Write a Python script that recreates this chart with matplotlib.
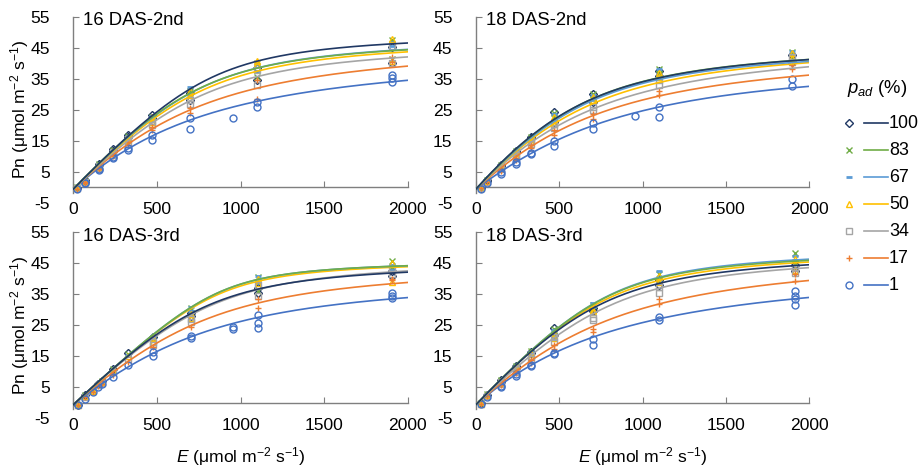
import numpy as np
import matplotlib
matplotlib.use("Agg")
import matplotlib.pyplot as plt

plt.rcParams['font.family'] = ['Liberation Sans', 'DejaVu Sans']
plt.rcParams['mathtext.fontset'] = 'custom'
plt.rcParams['mathtext.rm'] = 'Liberation Sans'
plt.rcParams['mathtext.it'] = 'Liberation Sans:italic'
plt.rcParams['axes.unicode_minus'] = False

# p_ad series (legend order)
pad = [100, 83, 67, 50, 34, 17, 1]
colors = ['#203864', '#70AD47', '#5B9BD5', '#FFC000', '#A5A5A5', '#ED7D31', '#4472C4']
markers = ['D', 'x', '_', '^', 's', '+', 'o']

titles = ['16 DAS-2nd', '18 DAS-2nd', '16 DAS-3rd', '18 DAS-3rd']

# E levels (umol m-2 s-1) per panel, and Pn replicates per series per level
e_tl = [25, 70, 153, 239, 325, 472, 700, 953, 1100, 1905]
pn_tl = [
    [[-0.3, -0.1], [1.8, 2.2], [7.6, 7.2], [12.3, 11.8], [16.8, 16.2], [23.2, 22.4], [30.5, 28.0], [], [38.5, 34.5], [45.2, 40.0]],
    [[-0.4, 0.0], [1.9, 1.6], [7.4, 6.9], [11.9, 11.4], [16.5, 15.8], [22.8, 21.8], [31.0, 29.5], [], [40.2, 35.4], [47.6, 41.5]],
    [[-0.2], [1.9, 1.7], [7.3, 6.8], [12.0, 11.2], [16.6, 15.5], [23.0, 21.5], [32.3, 29.0], [], [39.8, 37.5], [47.0, 45.5]],
    [[-0.3], [1.8], [7.0, 6.6], [11.7, 11.0], [16.0, 15.2], [22.5, 21.0], [31.0, 29.8], [], [40.6, 39.7], [47.9, 40.6]],
    [[-0.4], [1.6], [6.8, 6.3], [11.2, 10.5], [15.5, 14.6], [21.5, 20.0], [28.2, 27.0], [], [37.8, 33.0], [45.5, 40.0]],
    [[-0.5], [1.7, 1.5], [6.5, 6.0], [10.5, 10.0], [14.5, 13.5], [19.5, 18.3], [25.5, 24.0], [], [34.6, 28.5], [42.0, 40.5]],
    [[-0.6], [1.4, 1.2], [6.0, 5.6], [9.8, 9.3], [12.6, 12.0], [16.8, 15.2], [22.2, 18.8], [22.2], [27.6, 25.8], [36.2, 35.2, 34.0]],
]

e_tr = [28, 68, 148, 238, 328, 470, 700, 953, 1100, 1900]
pn_tr = [
    [[-0.3], [2.3, 2.0], [7.2, 6.8], [11.8, 11.3], [16.3, 15.8], [24.4, 21.0], [30.0, 27.5], [], [37.5, 36.0], [42.5, 40.5]],
    [[-0.2], [2.2], [7.1, 6.6], [11.6, 11.0], [16.2, 15.4], [24.0, 22.5], [30.2, 28.5], [], [38.2, 36.5], [43.5, 42.0]],
    [[-0.2], [2.1], [6.9, 6.4], [11.4, 10.6], [15.9, 15.0], [23.5, 21.5], [29.8, 28.0], [], [38.0, 36.0], [43.8, 42.5]],
    [[-0.3], [2.0], [6.8, 6.2], [11.0, 10.4], [15.5, 14.6], [22.5, 20.5], [29.0, 28.0], [], [37.0, 35.5], [43.2, 41.8]],
    [[-0.3], [1.8], [6.4, 5.9], [10.5, 9.8], [14.8, 13.8], [20.5, 19.0], [26.0, 25.0], [], [34.5, 33.0], [42.0, 40.5]],
    [[-0.4], [1.6], [5.8, 5.3], [9.5, 8.8], [13.5, 12.5], [18.5, 17.0], [23.5, 22.0], [], [31.0, 29.8], [39.5, 38.0]],
    [[-0.5], [1.3], [4.8, 4.3], [8.0, 7.6], [11.0, 10.6], [14.8, 13.3], [20.6, 18.8], [23.1], [25.8, 22.5], [35.0, 32.5]],
]

e_bl = [30, 70, 120, 150, 170, 240, 330, 475, 706, 953, 1103, 1908]
pn_bl = [
    [[-0.6], [2.6], [], [6.0], [7.0], [11.0], [16.0], [21.3], [29.0, 28.0], [], [37.0, 35.5], [42.5, 41.0]],
    [[-0.6], [2.5], [3.9], [], [7.1], [10.8], [15.8], [21.0], [30.5, 29.0], [], [40.5, 36.0], [45.8, 43.5]],
    [[-0.5], [2.4], [], [6.1], [6.9], [10.6], [15.5], [20.8], [30.8, 29.5], [], [40.8, 38.5], [44.5, 43.0]],
    [[-0.6], [2.2], [3.8], [], [6.8], [10.3], [15.0], [21.0, 19.7], [28.5, 27.5], [], [40.0, 38.8], [45.2, 39.1]],
    [[-0.7], [2.0], [], [5.6], [6.5], [10.0], [14.0], [19.7, 18.5], [27.0, 26.0], [], [38.0, 34.5], [43.5, 41.5]],
    [[-0.7], [1.8], [3.6], [5.4], [6.2], [9.0], [13.3], [18.1], [24.3], [], [33.4, 30.5], [40.0, 39.5]],
    [[-0.8], [1.3], [3.5], [5.2], [6.0], [8.4], [12.2], [16.4, 15.1], [21.4, 20.8], [24.3, 23.7], [28.4, 25.8, 24.0], [35.3, 34.5, 33.7]],
]

e_br = [28, 68, 148, 240, 328, 471, 700, 1101, 1913]
pn_br = [
    [[-0.2], [2.6], [7.2, 6.8], [11.8, 11.2], [16.5, 16.0], [24.0, 22.0], [30.5, 29.5], [39.5, 38.0], [44.5, 42.5]],
    [[-0.2], [2.8], [7.4, 6.9], [11.9, 11.0], [16.7, 15.8], [23.8, 21.5], [31.5, 30.2], [41.5, 39.0], [48.3, 45.0]],
    [[-0.2], [2.6], [7.3, 6.7], [11.6, 10.8], [16.4, 15.6], [23.5, 21.3], [32.3, 31.0], [42.5, 39.5], [47.5, 46.0]],
    [[-0.3], [2.5], [7.0, 6.5], [11.4, 10.5], [16.0, 15.0], [22.5, 21.0], [30.0, 29.4], [40.8, 39.0], [46.5, 43.0]],
    [[-0.3], [2.3], [6.6, 6.2], [10.8, 10.0], [15.0, 14.0], [21.3, 19.5], [27.5, 26.7], [37.5, 35.5], [43.5, 42.0]],
    [[-0.4], [2.1], [6.2, 5.8], [10.0, 9.5], [13.8, 12.8], [18.6, 17.5], [23.7, 23.0], [33.5, 31.8], [41.5, 39.4]],
    [[-0.5], [2.0], [5.5, 5.2], [9.3, 8.8], [12.2, 11.9], [16.0, 15.6], [20.5, 18.6], [27.8, 26.7], [36.2, 34.5, 33.5, 31.5]],
]

# fitted light-response style curves (non-rectangular hyperbola):
# initial slope phi, maximum pm, curvature theta, offset rd
rd = 0.6
phi_tl = [0.055, 0.056, 0.055, 0.054, 0.052, 0.051, 0.048]
pm_tl = [51.00, 49.75, 49.75, 49.50, 48.25, 48.75, 46.00]
th_tl = [0.89, 0.84, 0.85, 0.83, 0.81, 0.64, 0.46]
phi_tr = [0.060, 0.059, 0.057, 0.056, 0.054, 0.049, 0.040]
pm_tr = [48.25, 48.00, 47.25, 48.25, 49.00, 46.25, 42.50]
th_tr = [0.71, 0.73, 0.74, 0.68, 0.58, 0.57, 0.60]
phi_bl = [0.051, 0.050, 0.050, 0.050, 0.050, 0.047, 0.042]
pm_bl = [46.75, 47.00, 47.00, 47.00, 47.75, 46.25, 42.50]
th_bl = [0.87, 0.94, 0.94, 0.93, 0.86, 0.76, 0.67]
phi_br = [0.056, 0.056, 0.056, 0.056, 0.052, 0.049, 0.047]
pm_br = [50.00, 50.50, 51.00, 50.50, 49.75, 49.75, 46.25]
th_br = [0.84, 0.88, 0.88, 0.86, 0.83, 0.65, 0.42]

W, H = 922, 468
fig = plt.figure(figsize=(W / 100, H / 100), dpi=100)

def px_axes(left, top, right, bottom):
    return fig.add_axes([left / W, 1 - bottom / H, (right - left) / W, (bottom - top) / H])

def nrh(e, f, p, t):
    s = f * e + p
    return (s - np.sqrt(s * s - 4 * t * f * e * p)) / (2 * t) - rd

def marker_style(i):
    m = markers[i]
    filled = m in ('x', '+', '_')
    return dict(marker=m, ms=4 if m == 'D' else 5, mec=colors[i],
                mfc=colors[i] if filled else 'none', mew=2.0 if m == '_' else 1.0)

axes = [px_axes(73.3, 16.7, 407.7, 202.7), px_axes(476, 16.7, 809, 202.7),
        px_axes(73.3, 232.3, 407.7, 418.3), px_axes(476, 232.3, 809, 418.3)]
panels = [(e_tl, pn_tl, phi_tl, pm_tl, th_tl), (e_tr, pn_tr, phi_tr, pm_tr, th_tr),
          (e_bl, pn_bl, phi_bl, pm_bl, th_bl), (e_br, pn_br, phi_br, pm_br, th_br)]

egrid = np.linspace(0, 2000, 300)
fs = 12.6

for ax, title, (levels, pns, phis, pms, ths) in zip(axes, titles, panels):
    for i in range(len(pad)):
        xs, ys = [], []
        for e, reps in zip(levels, pns[i]):
            xs += [e] * len(reps)
            ys += reps
        ax.plot(xs, ys, ls='none', zorder=3, **marker_style(i))
    for i in range(len(pad) - 1, -1, -1):
        ax.plot(egrid, nrh(egrid, phis[i], pms[i], ths[i]), color=colors[i], lw=1.2, zorder=4)

    ax.set_xlim(0, 2000)
    ax.set_ylim(-5, 55)
    ax.set_xticks(np.arange(0, 2001, 500))
    ax.set_yticks(np.arange(-5, 56, 10))
    for s in ('top', 'right'):
        ax.spines[s].set_visible(False)
    ax.spines['bottom'].set_position(('data', 0))
    ax.spines['left'].set_bounds(-1.9, 55)
    for s in ('bottom', 'left'):
        ax.spines[s].set_color('#7f7f7f')
        ax.spines[s].set_linewidth(1.0)
    ax.tick_params(axis='both', direction='in', length=4, color='#7f7f7f', labelsize=fs)
    ax.tick_params(axis='x', pad=11)
    ax.tick_params(axis='y', pad=17)
    ax.yaxis.get_major_ticks()[0].tick1line.set_visible(False)
    ax.set_facecolor('none')
    ax.text(0.03, 0.977, title, transform=ax.transAxes, fontsize=13.3, va='center', ha='left')

ylab = 'Pn (μmol m$^{-2}$ s$^{-1}$)'
xlab = '$E$ (μmol m$^{-2}$ s$^{-1}$)'
fig.text(20 / W, 1 - 109.7 / H, ylab, rotation=90, ha='center', va='center', fontsize=fs)
fig.text(20 / W, 1 - 325.3 / H, ylab, rotation=90, ha='center', va='center', fontsize=fs)
fig.text(240.5 / W, 1 - 457 / H, xlab, ha='center', va='center', fontsize=fs)
fig.text(642.5 / W, 1 - 457 / H, xlab, ha='center', va='center', fontsize=fs)

# legend: marker, line, label
leg = px_axes(820, 60, 922, 300)
leg.set_xlim(820, 922)
leg.set_ylim(300, 60)
leg.axis('off')
leg.text(877, 88, '$p_{ad}$ (%)', ha='center', va='center', fontsize=13.3)
for i, p in enumerate(pad):
    y = 123 + i * 27
    leg.plot([849], [y], ls='none', **marker_style(i))
    leg.plot([864, 888], [y, y], color=colors[i], lw=1.2)
    leg.text(889, y, str(p), ha='left', va='center', fontsize=12.9)

fig.savefig('out.png', dpi=100)
